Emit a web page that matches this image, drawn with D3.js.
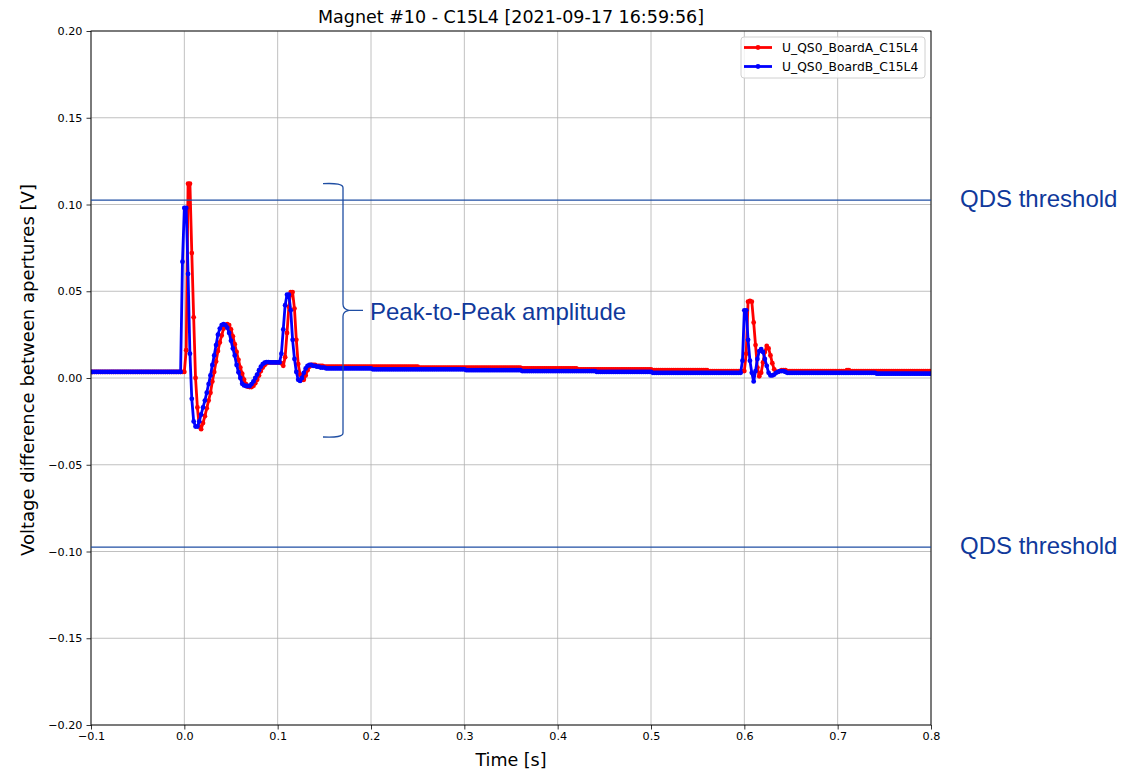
<!DOCTYPE html>
<html>
<head>
<meta charset="utf-8">
<script src="https://cdn.jsdelivr.net/npm/d3@7/dist/d3.min.js"></script>
<style>
  body { margin: 0; background: #ffffff; }
  svg { display: block; }
</style>
</head>
<body>
<svg id="chart" width="1142" height="770"></svg>
<script>
// ---- chart content ------------------------------------------------------
const chartTitle = "Magnet #10 - C15L4 [2021-09-17 16:59:56]";
const xLabel = "Time [s]";
const yLabel = "Voltage difference between apertures [V]";
const seriesNames = ["U_QS0_BoardA_C15L4", "U_QS0_BoardB_C15L4"];
const seriesColors = ["#ff0000", "#0000ff"];

const xTickValues = [-0.1, 0.0, 0.1, 0.2, 0.3, 0.4, 0.5, 0.6, 0.7, 0.8];
const yTickValues = [-0.20, -0.15, -0.10, -0.05, 0.00, 0.05, 0.10, 0.15, 0.20];

// acquisition: first sample time and sample period, in seconds
const sampleStart = -0.1;
const samplePeriod = 0.002;

// Board A samples, millivolts
const boardA_mV = [
  3.5,3.5,3.5,3.5,3.5,3.5,3.5,3.5,3.5,3.5,
  3.5,3.5,3.5,3.5,3.5,3.5,3.5,3.5,3.5,3.5,
  3.5,3.5,3.5,3.5,3.5,3.5,3.5,3.5,3.5,3.5,
  3.5,3.5,3.5,3.5,3.5,3.5,3.5,3.5,3.5,3.5,
  3.5,3.5,3.5,3.5,3.5,3.5,3.5,3.5,3.5,3.5,
  3.5,16,112,112,72,35,0,-17,-28,-29.5,
  -26,-22,-17.5,-13,-8.5,-2,3.5,9.5,15.5,20.5,
  24.5,28.5,30.5,31,30.5,28,24,19.5,15,10.5,
  6,2.5,-1,-3.5,-5,-5.2,-5.2,-4.5,-3,-1,
  1.5,4,6,7.5,8.5,9,9,9,9,9,
  9,9,8.5,7,12,26,41,49.5,49.5,40,
  22,8,2,-1,-1,1.5,4.5,6.5,7.5,7.5,
  7.5,7,7,7,7,6.5,6.5,6.5,6.5,6.5,
  6.5,6.5,6.5,6.5,6.5,6.5,6.5,6.5,6.5,6.5,
  6.5,6.5,6.5,6.5,6.5,6.5,6.5,6.5,6.5,6.5,
  6.5,6.5,6.5,6.5,6.5,6.5,6.5,6.5,6.5,6.5,
  6.5,6.5,6.5,6.5,6.5,6.5,6.5,6.5,6.5,6.5,
  6.5,6.5,6.5,6.5,6.5,6.5,6,6,6,6,
  6,6,6,6,6,6,6,6,6,6,
  6,6,6,6,6,6,6,6,6,6,
  6,6,6,6,6,6,6,6,6,6,
  6,6,6,6,6,6,6,6,6,6,
  6,6,6,6,6,6,6,6,6,6,
  6,5.5,5.5,5.5,5.5,5.5,5.5,5.5,5.5,5.5,
  5.5,5.5,5.5,5.5,5.5,5.5,5.5,5.5,5.5,5.5,
  5.5,5.5,5.5,5.5,5.5,5.5,5.5,5.5,5.5,5.5,
  5.5,5,5,5,5,5,5,5,5,5,
  5,5,5,5,5,5,5,5,5,5,
  5,5,5,5,5,5,5,5,5,5,
  5,5,5,5,5,5,5,5,5,5,
  5,4.5,4.5,4.5,4.5,4.5,4.5,4.5,4.5,4.5,
  4.5,4.5,4.5,4.5,4.5,4.5,4.5,4.5,4.5,4.5,
  4.5,4.5,4.5,4.5,4.5,4.5,4.5,4.5,4.5,4.5,
  4.5,4,4,4,4,4,4,4,4,4,
  4,4,4,4,4,4,4,4,4,4,
  4,14,44,44.5,44,32,19,6,1,3,
  9,15,18.5,17,13,8.5,5,3.5,3.5,4,
  4.5,4.5,4.5,4,4,4,4,4,4,4,
  4,4,4,4,4,4,4,4,4,4,
  4,4,4,4,4,4,4,4,4,4,
  4,4,4,4,4,4.5,4.5,4,4,4,
  4,4,4,4,4,4,4,4,4,4,
  4,4,4,4,4,4,4,4,4,4,
  4,4,4,4,4,4,4,4,4,4,
  4,4,4,4,4,4,4,4,4,4,
  4
];

// Board B samples, millivolts
const boardB_mV = [
  3.5,3.5,3.5,3.5,3.5,3.5,3.5,3.5,3.5,3.5,
  3.5,3.5,3.5,3.5,3.5,3.5,3.5,3.5,3.5,3.5,
  3.5,3.5,3.5,3.5,3.5,3.5,3.5,3.5,3.5,3.5,
  3.5,3.5,3.5,3.5,3.5,3.5,3.5,3.5,3.5,3.5,
  3.5,3.5,3.5,3.5,3.5,3.5,3.5,3.5,3.5,67,
  98,98,60,14,-12,-25,-28,-28,-25,-21,
  -17,-13,-8.5,-3.5,1.5,7.5,13,19,25,28.5,
  30.5,31,30.5,29,26,21.5,17,13,7.5,3.3,
  0,-3.3,-4.3,-4.6,-4.6,-4.6,-3.5,-2,0,2,
  4.5,6.5,8,8.8,9.2,9.2,9,9,9,9,
  9,9,14,28,42,48,48,39,22,11,
  3.5,-1,-1.7,0,3,5.5,7,7.5,7.5,7,
  7,6.5,6.5,6,6,6,5.5,5.5,5.5,5.5,
  5.5,5.5,5.5,5.5,5.5,5.5,5.5,5.5,5.5,5.5,
  5.5,5.5,5.5,5.5,5.5,5.5,5.5,5.5,5.5,5.5,
  5.5,5,5,5,5,5,5,5,5,5,
  5,5,5,5,5,5,5,5,5,5,
  5,5,5,5,5,5,5,5,5,5,
  5,5,5,5,5,5,5,5,5,5,
  5,5,5,5,5,5,5,5,5,5,
  5,4.5,4.5,4.5,4.5,4.5,4.5,4.5,4.5,4.5,
  4.5,4.5,4.5,4.5,4.5,4.5,4.5,4.5,4.5,4.5,
  4.5,4.5,4.5,4.5,4.5,4.5,4.5,4.5,4.5,4.5,
  4.5,4,4,4,4,4,4,4,4,4,
  4,4,4,4,4,4,4,4,4,4,
  4,4,4,4,4,4,4,4,4,4,
  4,4,4,4,4,4,4,4,4,4,
  4,3.5,3.5,3.5,3.5,3.5,3.5,3.5,3.5,3.5,
  3.5,3.5,3.5,3.5,3.5,3.5,3.5,3.5,3.5,3.5,
  3.5,3.5,3.5,3.5,3.5,3.5,3.5,3.5,3.5,3.5,
  3.5,3,3,3,3,3,3,3,3,3,
  3,3,3,3,3,3,3,3,3,3,
  3,3,3,3,3,3,3,3,3,3,
  3,3,3,3,3,3,3,3,3,3,
  3,3,3,3,3,3,3,3,3,10,
  39,39,22,10,3,-2,4,11,15.5,16.7,
  15,11,7,3,1.5,1.5,2,3,3.5,4,
  4,4,3.5,3,3,3,3,3,3,3,
  3,3,3,3,3,3,3,3,3,3,
  3,3,3,3,3,3,3,3,3,3,
  3,3,3,3,3,3,3,3,3,3,
  3,3,3,3,3,3,3,3,3,3,
  3,2.5,2.5,2.5,2.5,2.5,2.5,2.5,2.5,2.5,
  2.5,2.5,2.5,2.5,2.5,2.5,2.5,2.5,2.5,2.5,
  2.5,2.5,2.5,2.5,2.5,2.5,2.5,2.5,2.5,2.5,
  2.5
];

// quench detection thresholds (V) and the peak-to-peak bracket span (V)
const qdsThresholds = [0.1025, -0.0975];
const qdsLabel = "QDS threshold";
const peakBracketSpan = [-0.034, 0.112];
const peakBracketTime = 0.17;
const peakLabel = "Peak-to-Peak amplitude";

// ---- layout ------------------------------------------------------------
const svg = d3.select("#chart");
const plot = { left: 91, right: 931, top: 31, bottom: 725 };
const noteColor = "#10399b";
const font = "'DejaVu Sans', sans-serif";
const traceWidth = 2.8;
const dotRadius = 2.4;

const x = d3.scaleLinear().domain([-0.1, 0.8]).range([plot.left, plot.right]);
const y = d3.scaleLinear().domain([-0.2, 0.2]).range([plot.bottom, plot.top]);

const toSeries = arr => arr.map((mv, i) => ({ t: sampleStart + i * samplePeriod, v: mv / 1000 }));
const series = [toSeries(boardA_mV), toSeries(boardB_mV)];

const fmtMinus = s => s.replace("-", "\u2212");

// grid
const grid = svg.append("g").attr("stroke", "#b0b0b0").attr("stroke-width", 0.8);
grid.selectAll("line.gx").data(xTickValues).join("line")
  .attr("x1", d => x(d)).attr("x2", d => x(d))
  .attr("y1", plot.top).attr("y2", plot.bottom);
grid.selectAll("line.gy").data(yTickValues).join("line")
  .attr("y1", d => y(d)).attr("y2", d => y(d))
  .attr("x1", plot.left).attr("x2", plot.right);

// data traces
const clip = svg.append("clipPath").attr("id", "plotclip").append("rect")
  .attr("x", plot.left).attr("y", plot.top)
  .attr("width", plot.right - plot.left).attr("height", plot.bottom - plot.top);
const traces = svg.append("g").attr("clip-path", "url(#plotclip)");
const line = d3.line().x(d => x(d.t)).y(d => y(d.v));
series.forEach((s, k) => {
  const g = traces.append("g");
  g.append("path").datum(s)
    .attr("d", line).attr("fill", "none")
    .attr("stroke", seriesColors[k]).attr("stroke-width", traceWidth)
    .attr("stroke-linejoin", "round");
  g.selectAll("circle").data(s).join("circle")
    .attr("cx", d => x(d.t)).attr("cy", d => y(d.v)).attr("r", dotRadius)
    .attr("fill", seriesColors[k]);
});

// axes
const xAxis = d3.axisBottom(x).tickValues(xTickValues).tickSize(4.5).tickPadding(3)
  .tickFormat(d => fmtMinus(d3.format(".1f")(d)));
const yAxis = d3.axisLeft(y).tickValues(yTickValues).tickSize(4.5).tickPadding(4)
  .tickFormat(d => fmtMinus(d3.format(".2f")(d)));
const gx = svg.append("g").attr("transform", `translate(0,${plot.bottom})`).call(xAxis);
const gy = svg.append("g").attr("transform", `translate(${plot.left},0)`).call(yAxis);
[gx, gy].forEach(g => {
  g.select(".domain").remove();
  g.selectAll(".tick line").attr("stroke", "#000").attr("stroke-width", 0.8);
  g.selectAll(".tick text").attr("font-family", font).attr("font-size", 11.2).attr("fill", "#000");
});

// frame
svg.append("rect")
  .attr("x", plot.left).attr("y", plot.top)
  .attr("width", plot.right - plot.left).attr("height", plot.bottom - plot.top)
  .attr("fill", "none").attr("stroke", "#000").attr("stroke-width", 0.9);

// titles
svg.append("text").attr("x", (plot.left + plot.right) / 2).attr("y", 23)
  .attr("text-anchor", "middle").attr("font-family", font).attr("font-size", 17.5)
  .text(chartTitle);
svg.append("text").attr("x", (plot.left + plot.right) / 2).attr("y", 766)
  .attr("text-anchor", "middle").attr("font-family", font).attr("font-size", 17.5)
  .text(xLabel);
svg.append("text")
  .attr("transform", `translate(34,${(plot.top + plot.bottom) / 2 - 8}) rotate(-90)`)
  .attr("text-anchor", "middle").attr("font-family", font).attr("font-size", 18)
  .text(yLabel);

// legend
const legend = svg.append("g").attr("transform", "translate(741,37)");
legend.append("rect").attr("width", 184).attr("height", 41).attr("rx", 3)
  .attr("fill", "#fff").attr("fill-opacity", 0.8).attr("stroke", "#d0d0d0");
seriesNames.forEach((name, k) => {
  const row = legend.append("g").attr("transform", `translate(0,${10.5 + k * 19})`);
  row.append("line").attr("x1", 3).attr("x2", 31).attr("stroke", seriesColors[k]).attr("stroke-width", traceWidth);
  row.append("circle").attr("cx", 17).attr("r", dotRadius).attr("fill", seriesColors[k]);
  row.append("text").attr("x", 41).attr("dy", "0.35em")
    .attr("font-family", font).attr("font-size", 12.3).text(name);
});

// QDS threshold lines and labels
const notes = svg.append("g");
qdsThresholds.forEach(v => {
  notes.append("line")
    .attr("x1", plot.left).attr("x2", plot.right)
    .attr("y1", y(v)).attr("y2", y(v))
    .attr("stroke", "#1f4ea3").attr("stroke-width", 1.3);
  notes.append("text").attr("x", 960).attr("y", y(v) + 7)
    .attr("font-family", "'Liberation Sans', Arial, sans-serif").attr("font-size", 24)
    .attr("fill", noteColor).text(qdsLabel);
});

// peak-to-peak curly bracket
const bx = x(peakBracketTime);
const bTop = y(peakBracketSpan[1]);
const bBot = y(peakBracketSpan[0]);
const bMid = (bTop + bBot) / 2;
const bracket = d3.path();
bracket.moveTo(bx - 20, bTop);
bracket.quadraticCurveTo(bx, bTop - 1, bx, bTop + 4);
bracket.lineTo(bx, bMid - 6);
bracket.quadraticCurveTo(bx, bMid - 1, bx + 6, bMid);
bracket.lineTo(bx + 20, bMid);
bracket.moveTo(bx + 6, bMid);
bracket.quadraticCurveTo(bx, bMid + 1, bx, bMid + 6);
bracket.lineTo(bx, bBot - 4);
bracket.quadraticCurveTo(bx, bBot + 1, bx - 20, bBot);
notes.append("path").attr("d", bracket.toString())
  .attr("fill", "none").attr("stroke", "#1f4ea3").attr("stroke-width", 1.3);
notes.append("text").attr("x", bx + 27).attr("y", bMid + 10)
  .attr("font-family", "'Liberation Sans', Arial, sans-serif").attr("font-size", 24)
  .attr("fill", noteColor).text(peakLabel);
</script>
</body>
</html>
